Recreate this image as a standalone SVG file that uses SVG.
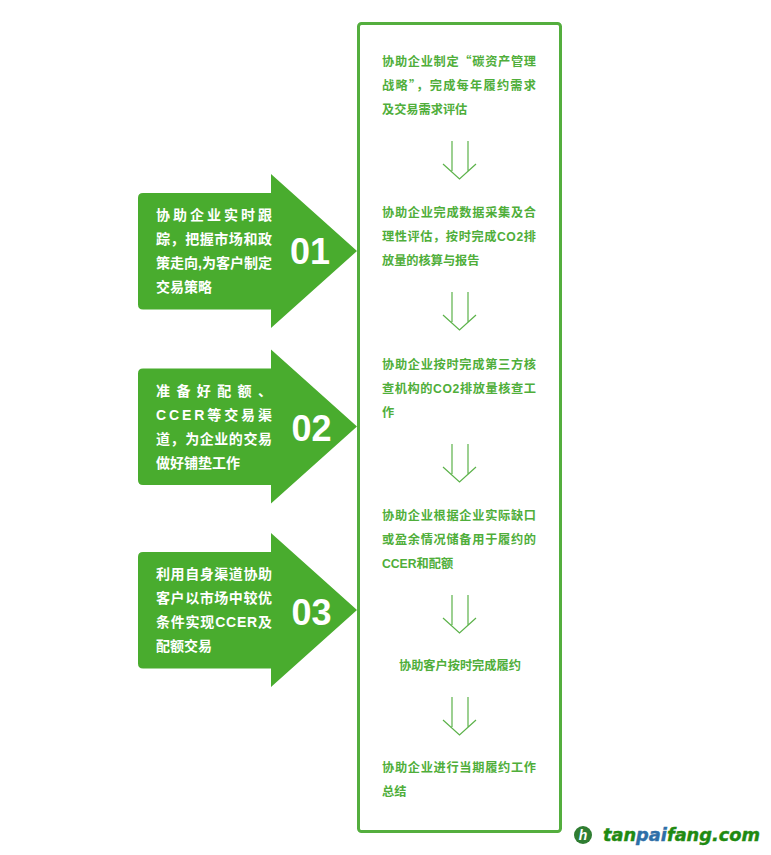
<svg xmlns="http://www.w3.org/2000/svg" width="771" height="855" viewBox="0 0 771 855">
<style>
text{font-family:"Liberation Sans","Noto Sans CJK SC",sans-serif;font-weight:700}
.l{font-size:14px;fill:#fff}
.n{font-size:36px;fill:#fff}
.r{font-size:12.2px;fill:#4fae3a}
.q{font-family:"Noto Sans CJK SC",sans-serif}
.a{fill:#49ac2e}
.d{fill:none;stroke:#5cb24a;stroke-width:1.2}
</style>
<defs>
<path id="arw" class="a" d="M143 0H271V-19L357 58L271 135V116.500H143Q138 116.500 138 111.500V5Q138 0 143 0Z"/>
<g id="down"><path class="d" d="M452 0V30M468 0V30M443 23L459.500 38L476 23"/></g>
</defs>
<g id="panel"><rect x="358.500" y="23.500" width="202" height="808" rx="3" fill="#fff" stroke="#54ae3e" stroke-width="3"/></g>
<g id="node-01">
<use href="#arw" y="193"/>
<text class="l" x="156" y="220" textLength="116" lengthAdjust="spacing">协助企业实时跟</text>
<text class="l" x="156" y="244" textLength="116" lengthAdjust="spacing">踪，把握市场和政</text>
<text class="l" x="156" y="268" textLength="116" lengthAdjust="spacing">策走向,为客户制定</text>
<text class="l" x="156" y="292">交易策略</text>
<text class="n" x="290" y="264">01</text>
</g>
<g id="node-02">
<use href="#arw" y="368.500"/>
<text class="l" x="156" y="395.500" textLength="116" lengthAdjust="spacing">准备好配额、</text>
<text class="l" x="156" y="419.500" textLength="116" lengthAdjust="spacing">CCER等交易渠</text>
<text class="l" x="156" y="443.500" textLength="116" lengthAdjust="spacing">道，为企业的交易</text>
<text class="l" x="156" y="467.500">做好铺垫工作</text>
<text class="n" x="291.500" y="440.500">02</text>
</g>
<g id="node-03">
<use href="#arw" y="552"/>
<text class="l" x="156" y="579" textLength="116" lengthAdjust="spacing">利用自身渠道协助</text>
<text class="l" x="156" y="603" textLength="116" lengthAdjust="spacing">客户以市场中较优</text>
<text class="l" x="156" y="627" textLength="116" lengthAdjust="spacing">条件实现CCER及</text>
<text class="l" x="156" y="651">配额交易</text>
<text class="n" x="291.500" y="625">03</text>
</g>
<g id="step-1">
<text class="r" x="382" y="65.500" textLength="154" lengthAdjust="spacing">协助企业制定<tspan class="q">“</tspan>碳资产管理</text>
<text class="r" x="382" y="89.500" textLength="154" lengthAdjust="spacing">战略<tspan class="q">”</tspan>，完成每年履约需求</text>
<text class="r" x="382" y="113.500">及交易需求评估</text>
</g>
<g id="step-2">
<text class="r" x="382" y="216.500" textLength="154" lengthAdjust="spacing">协助企业完成数据采集及合</text>
<text class="r" x="382" y="240.500" textLength="154" lengthAdjust="spacing">理性评估，按时完成CO2排</text>
<text class="r" x="382" y="264.500">放量的核算与报告</text>
</g>
<g id="step-3">
<text class="r" x="382" y="368.500" textLength="154" lengthAdjust="spacing">协助企业按时完成第三方核</text>
<text class="r" x="382" y="392.500" textLength="154" lengthAdjust="spacing">查机构的CO2排放量核查工</text>
<text class="r" x="382" y="416.500">作</text>
</g>
<g id="step-4">
<text class="r" x="382" y="519.500" textLength="154" lengthAdjust="spacing">协助企业根据企业实际缺口</text>
<text class="r" x="382" y="543.500" textLength="154" lengthAdjust="spacing">或盈余情况储备用于履约的</text>
<text class="r" x="382" y="567.500">CCER和配额</text>
</g>
<g id="step-5"><text class="r" x="399" y="669.500">协助客户按时完成履约</text></g>
<g id="step-6">
<text class="r" x="382" y="771.500" textLength="154" lengthAdjust="spacing">协助企业进行当期履约工作</text>
<text class="r" x="382" y="795.500">总结</text>
</g>
<g id="connectors">
<use href="#down" y="141"/>
<use href="#down" y="292"/>
<use href="#down" y="444"/>
<use href="#down" y="595"/>
<use href="#down" y="697"/>
</g>
<g id="logo">
<circle cx="583" cy="835" r="9" fill="#2f7d32"/>
<text x="583" y="840" text-anchor="middle" font-size="14" font-style="italic" fill="#fff">h</text>
<text x="603" y="841" font-size="17" font-style="italic" style="font-family:'DejaVu Sans',sans-serif" fill="#1f8a12" stroke="#1f8a12" stroke-width=".4" textLength="157" lengthAdjust="spacingAndGlyphs">tan<tspan fill="#2e6fa8" stroke="#2e6fa8">pai</tspan>fang.com</text>
</g>
</svg>
